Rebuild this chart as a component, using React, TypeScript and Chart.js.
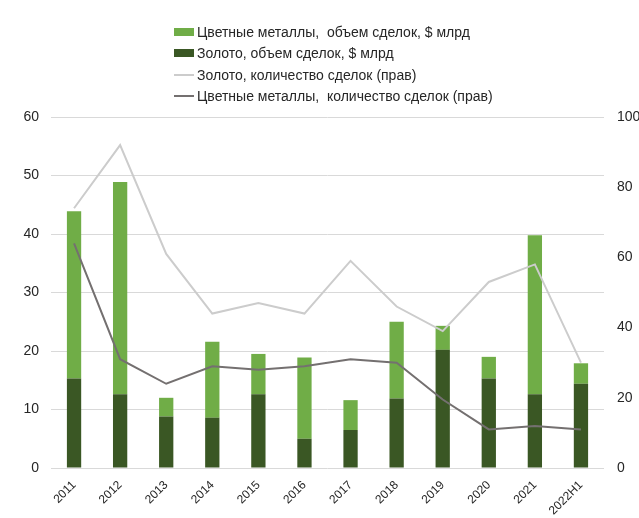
import React, { useEffect, useRef } from "react";
import { Chart, registerables } from "chart.js";

Chart.register(...registerables);

const categories = ["2011", "2012", "2013", "2014", "2015", "2016", "2017", "2018", "2019", "2020", "2021", "2022H1"];
const goldVolume = [15.3, 12.6, 8.8, 8.6, 12.6, 5.0, 6.5, 11.9, 20.2, 15.3, 12.6, 14.4];
const nonferrousVolume = [28.6, 36.3, 3.2, 13.0, 6.9, 13.9, 5.1, 13.1, 4.1, 3.7, 27.2, 3.5];
const goldDeals = [74, 92, 61, 44, 47, 44, 59, 46, 39, 53, 58, 30];
const nonferrousDeals = [64, 31, 24, 29, 28, 29, 31, 30, 19.5, 11, 12, 11];
const leftTicks = [0, 10, 20, 30, 40, 50, 60];
const rightTicks = [0, 20, 40, 60, 80, 100];

const legendItems = [
  { label: "Цветные металлы,  объем сделок, $ млрд", color: "#70ad47", kind: "box" },
  { label: "Золото, объем сделок, $ млрд", color: "#3a5724", kind: "box" },
  { label: "Золото, количество сделок (прав)", color: "#cccccc", kind: "line" },
  { label: "Цветные металлы,  количество сделок (прав)", color: "#747070", kind: "line" },
];

const FONT = "'Liberation Sans', Arial, sans-serif";

export default function App() {
  const ref = useRef<HTMLCanvasElement | null>(null);
  useEffect(() => {
    if (!ref.current) return;
    const chart = new Chart(ref.current, {
      type: "bar",
      data: {
        labels: categories,
        datasets: [
          {
            type: "line",
            label: "Золото, количество сделок (прав)",
            data: goldDeals,
            yAxisID: "y2",
            borderColor: "#cccccc",
            borderWidth: 2,
            pointRadius: 0,
            tension: 0,
            order: 0,
          } as any,
          {
            type: "line",
            label: "Цветные металлы, количество сделок (прав)",
            data: nonferrousDeals,
            yAxisID: "y2",
            borderColor: "#747070",
            borderWidth: 2,
            pointRadius: 0,
            tension: 0,
            order: 0,
          } as any,
          {
            label: "Золото, объем сделок, $ млрд",
            data: goldVolume,
            backgroundColor: "#3a5724",
            yAxisID: "y",
            stack: "s",
            order: 1,
          },
          {
            label: "Цветные металлы, объем сделок, $ млрд",
            data: nonferrousVolume,
            backgroundColor: "#70ad47",
            yAxisID: "y",
            stack: "s",
            order: 1,
          },
        ],
      },
      options: {
        responsive: false,
        animation: false,
        layout: { padding: { top: 117, left: 0, right: 0, bottom: 0 } },
        plugins: { legend: { display: false }, tooltip: { enabled: false } },
        datasets: { bar: { categoryPercentage: 1, barPercentage: 0.31 } },
        scales: {
          x: {
            stacked: true,
            grid: { display: false },
            border: { display: false },
            ticks: {
              minRotation: 45,
              maxRotation: 45,
              padding: 2,
              color: "#262626",
              font: { family: FONT, size: 12 },
            },
            afterFit: (s: any) => {
              s.height = 50;
            },
          },
          y: {
            stacked: true,
            min: 0,
            max: 60,
            afterBuildTicks: (s: any) => {
              s.ticks = leftTicks.map((v) => ({ value: v }));
            },
            grid: { color: "#d9d9d9", lineWidth: 1, drawTicks: false },
            border: { display: false },
            ticks: {
              padding: 12,
              color: "#262626",
              font: { family: FONT, size: 14 },
            },
            afterFit: (s: any) => {
              s.width = 51;
            },
          },
          y2: {
            position: "right",
            min: 0,
            max: 100,
            afterBuildTicks: (s: any) => {
              s.ticks = rightTicks.map((v) => ({ value: v }));
            },
            grid: { display: false, drawTicks: false },
            border: { display: false },
            ticks: {
              padding: 13,
              color: "#262626",
              font: { family: FONT, size: 14 },
            },
            afterFit: (s: any) => {
              s.width = 35;
            },
          },
        },
      } as any,
    });
    return () => chart.destroy();
  }, []);

  return (
    <div style={{ position: "fixed", left: 0, top: 0, width: 639, height: 518, background: "#fff", overflow: "hidden" }}>
      <canvas ref={ref} width={639} height={518} style={{ position: "absolute", left: 0, top: 0, width: 639, height: 518 }} />
      <div style={{ position: "absolute", left: 174, top: 21, fontFamily: FONT, fontSize: 14, color: "#262626" }}>
        {legendItems.map((it) => (
          <div key={it.label} style={{ display: "flex", alignItems: "center", height: 21.5, whiteSpace: "pre" }}>
            {it.kind === "box" ? (
              <span style={{ display: "inline-block", width: 20, height: 8, background: it.color, marginRight: 3 }} />
            ) : (
              <span style={{ display: "inline-block", width: 20, height: 2, background: it.color, marginRight: 3 }} />
            )}
            <span>{it.label}</span>
          </div>
        ))}
      </div>
    </div>
  );
}
